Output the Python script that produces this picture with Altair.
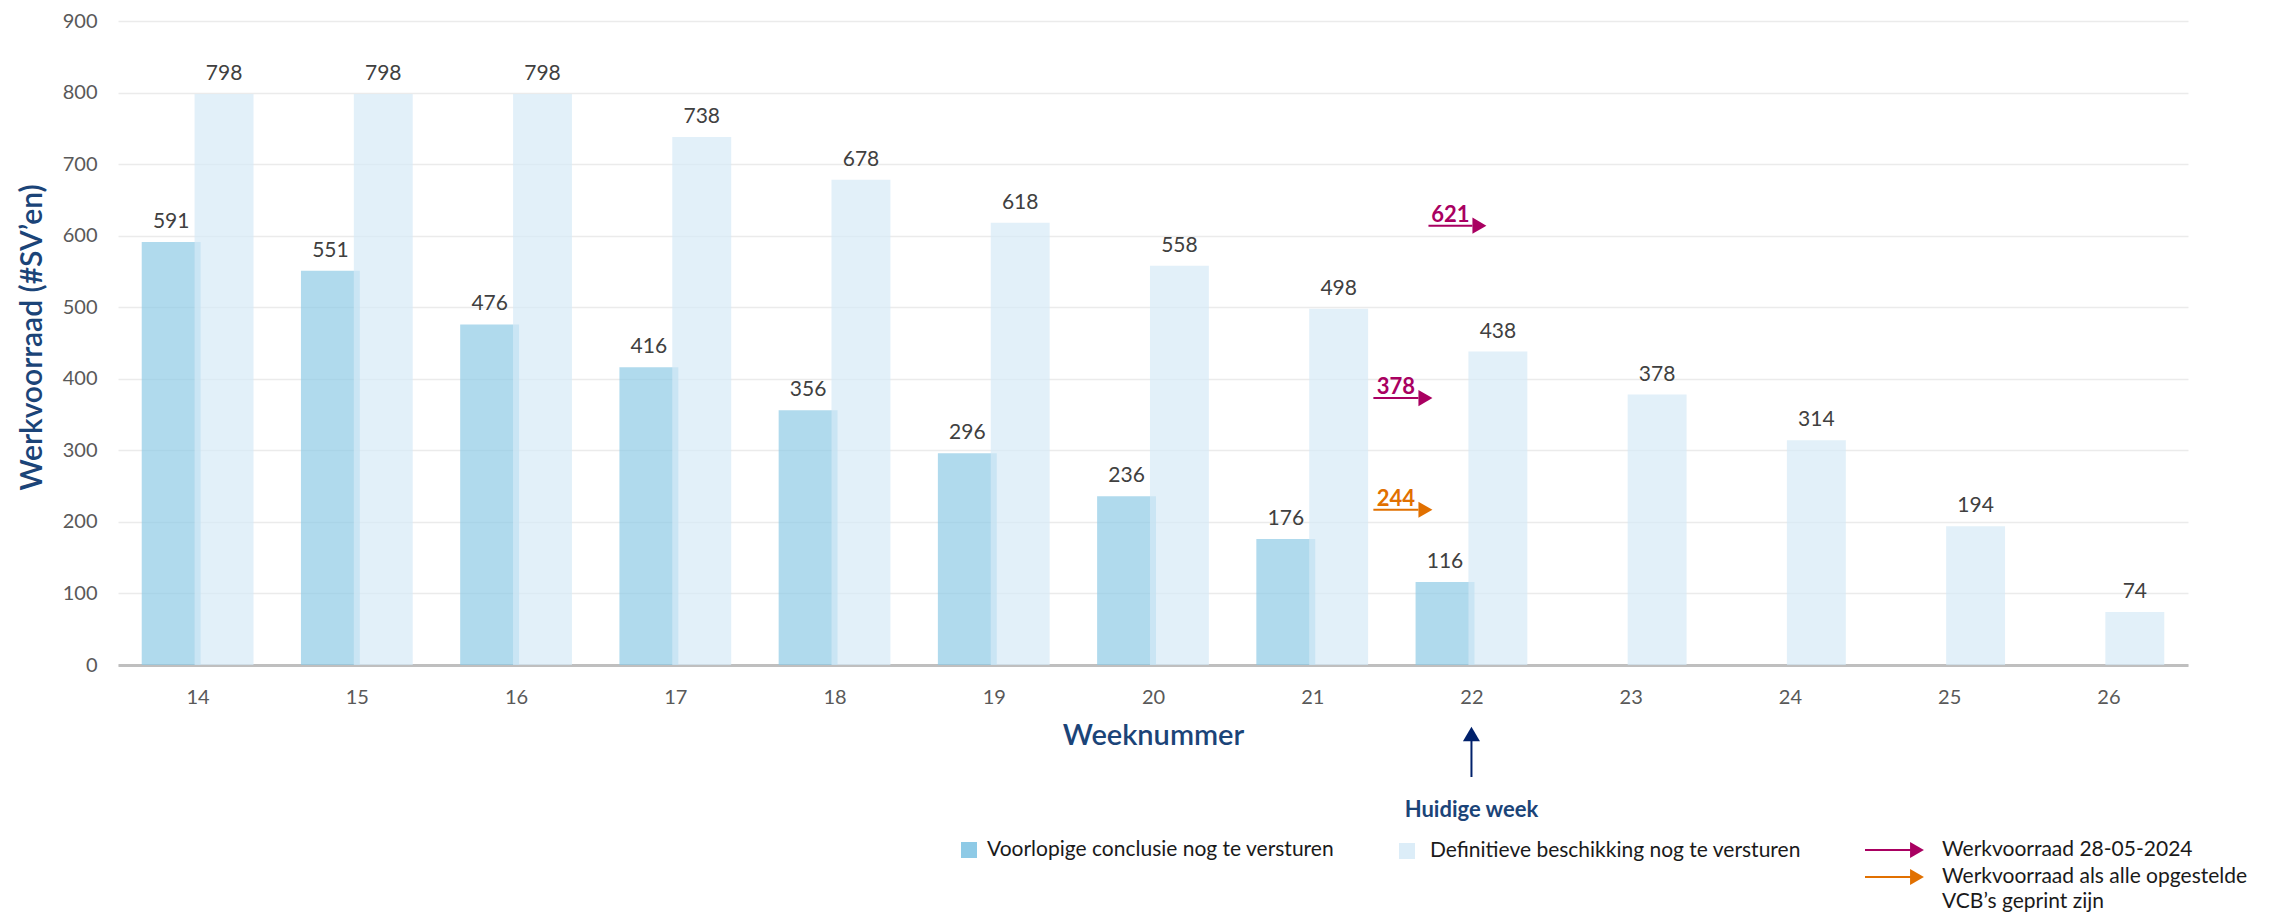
import altair as alt
import pandas as pd

# ---------------- data ----------------
weeks = list(range(14, 27))
voorlopig = [591, 551, 476, 416, 356, 296, 236, 176, 116, None, None, None, None]
definitief = [798, 798, 798, 738, 678, 618, 558, 498, 438, 378, 314, 194, 74]
series_keys = ["voorlopig", "definitief"]
series_names = ["Voorlopige conclusie nog te versturen",
                "Definitieve beschikking nog te versturen"]

# annotation arrows (value shown, level on value axis, start/end in week units)
annot_labels = ["621", "378", "244"]
annot_levels = [614, 373, 217]
annot_kind = ["28-05", "28-05", "vcb"]
annot_start = [21.73, 21.384, 21.384]
annot_end = [22.006, 21.667, 21.667]
current_week = 22

legend_arrow_texts = ["Werkvoorraad 28-05-2024",
                      "Werkvoorraad als alle opgestelde",
                      "VCB\u2019s geprint zijn"]

# ---------------- styles ----------------
FONT = "Lato"
C_DARK = "#8ecae6"
C_LIGHT = "#d6eaf7"
C_LEG_LIGHT = "#dcedf8"
C_MAGENTA = "#a90061"
C_ORANGE = "#e17000"
C_NAVY = "#01216b"
C_TITLE = "#1b4478"
BAR_W = 0.37
BAR_OFF = 0.166
kind_colors = {"28-05": C_MAGENTA, "vcb": C_ORANGE}
serie_colors = {"voorlopig": C_DARK, "definitief": C_LIGHT}

rows = []
for w, v in zip(weeks, voorlopig):
    if v is not None:
        rows.append({"week": w, "serie": "voorlopig", "value": v})
for w, v in zip(weeks, definitief):
    if v is not None:
        rows.append({"week": w, "serie": "definitief", "value": v})
bars_df = pd.DataFrame(rows)
bars_df["kleur"] = bars_df["serie"].map(serie_colors)

annot_df = pd.DataFrame({
    "label": annot_labels, "level": annot_levels, "kind": annot_kind,
    "start": annot_start, "end": annot_end,
})
annot_df["kleur"] = annot_df["kind"].map(kind_colors)

xscale = alt.Scale(domain=[13.5, 26.5], nice=False, zero=False)
yscale = alt.Scale(domain=[0, 900], nice=False)

base = alt.Chart(bars_df).transform_calculate(
    xc=f"datum.week + (datum.serie == 'voorlopig' ? {-BAR_OFF} : {BAR_OFF})"
).transform_calculate(
    x0=f"datum.xc - {BAR_W / 2}", x1=f"datum.xc + {BAR_W / 2}"
)

bars = base.mark_rect(opacity=0.7).encode(
    x=alt.X("x0:Q", scale=xscale,
            axis=alt.Axis(values=weeks, format="d", title="Weeknummer",
                          grid=False, ticks=False, domainColor="#bfbfbf",
                          domainWidth=3, labelPadding=22, labelFontSize=20,
                          labelColor="#595959", labelFont=FONT,
                          titleFont=FONT, titleFontSize=29, titleFontWeight=600,
                          titleColor=C_TITLE, titleY=70, titleBaseline="middle")),
    x2="x1:Q",
    y=alt.Y("value:Q", scale=yscale,
            axis=alt.Axis(values=list(range(0, 1000, 100)),
                          title="Werkvoorraad (#SV\u2019en)",
                          domain=False, ticks=False, gridColor="#ebebeb",
                          gridWidth=1.5, labelPadding=21, labelFontSize=20,
                          labelColor="#595959", labelFont=FONT,
                          titleFont=FONT, titleFontSize=30, titleFontWeight=600,
                          titleColor=C_TITLE, titleAngle=270, titleX=-86,
                          titleY=316, titleAlign="center",
                          titleBaseline="middle")),
    y2=alt.datum(0),
    color=alt.Color("kleur:N", scale=None),
)

bar_labels = base.mark_text(font=FONT, fontSize=21, color="#404040",
                            baseline="alphabetic", dy=-14).encode(
    x=alt.X("xc:Q", scale=xscale),
    y=alt.Y("value:Q", scale=yscale),
    text="value:Q",
)

acolor = alt.Color("kleur:N", scale=None)
abase = alt.Chart(annot_df).transform_calculate(
    head="datum.end + 0.044", mid="(datum.start + datum.end) / 2"
)
a_line = abase.mark_rule(strokeWidth=2).encode(
    x=alt.X("start:Q", scale=xscale), x2="end:Q",
    y=alt.Y("level:Q", scale=yscale), color=acolor)
a_head = abase.mark_point(shape="triangle-right", filled=True, size=260,
                          opacity=1).encode(
    x=alt.X("head:Q", scale=xscale),
    y=alt.Y("level:Q", scale=yscale), color=acolor)
a_text = abase.mark_text(font=FONT, fontSize=22, fontWeight="bold",
                         baseline="alphabetic", dy=-4).encode(
    x=alt.X("mid:Q", scale=xscale),
    y=alt.Y("level:Q", scale=yscale), text="label:N", color=acolor)

# current week marker below the axis
cw_df = pd.DataFrame({"week": [current_week], "label": ["Huidige week"]})
cw = alt.Chart(cw_df)
cw_line = cw.mark_rule(strokeWidth=2, color=C_NAVY).encode(
    x=alt.X("week:Q", scale=xscale),
    y=alt.value(719), y2=alt.value(756))
cw_head = cw.mark_point(shape="triangle-up", filled=True, size=290,
                        opacity=1, color=C_NAVY).encode(
    x=alt.X("week:Q", scale=xscale), y=alt.value(713))
cw_text = cw.mark_text(font=FONT, fontSize=22, fontWeight="bold",
                       color=C_TITLE, baseline="middle").encode(
    x=alt.X("week:Q", scale=xscale), y=alt.value(789),
    text="label:N")

# custom legend (pixel positions relative to the plot area)
def legend_text(txt, px, py):
    return alt.Chart(pd.DataFrame({"t": [txt]})).mark_text(
        font=FONT, fontSize=21, color="#1a1a1a", align="left",
        baseline="middle").encode(x=alt.value(px), y=alt.value(py), text="t:N")

def legend_square(key, colour, px, py):
    return alt.Chart(pd.DataFrame({"k": [key]})).mark_square(
        size=256, opacity=1, color=colour).encode(x=alt.value(px), y=alt.value(py))

def legend_arrow(key, colour, px0, px1, py):
    d = alt.Chart(pd.DataFrame({"k": [key]}))
    line = d.mark_rule(strokeWidth=2, color=colour).encode(
        x=alt.value(px0), x2=alt.value(px1), y=alt.value(py))
    head = d.mark_point(shape="triangle-right", filled=True, size=256,
                        opacity=1, color=colour).encode(
        x=alt.value(px1 + 6), y=alt.value(py))
    return [line, head]

legend_layers = [
    legend_square(series_keys[0], C_DARK, 851, 829),
    legend_text(series_names[0], 869, 829),
    legend_square(series_keys[1], C_LEG_LIGHT, 1289, 830),
    legend_text(series_names[1], 1312, 830),
    *legend_arrow("28-05", C_MAGENTA, 1747, 1793, 829),
    *legend_arrow("vcb", C_ORANGE, 1747, 1793, 856),
    legend_text(legend_arrow_texts[0], 1824, 829),
    legend_text(legend_arrow_texts[1], 1824, 856),
    legend_text(legend_arrow_texts[2], 1824, 881),
]

chart = alt.layer(
    bars, bar_labels, a_line, a_head, a_text, cw_line, cw_head, cw_text,
    *legend_layers,
).properties(
    width=2070, height=644,
    autosize=alt.AutoSizeParams(type="none"),
    padding={"left": 110, "top": 13, "right": 78, "bottom": 247},
).configure(font=FONT).configure_view(stroke=None)

chart.save("out.html", embed_options={"renderer": "svg", "actions": False})
